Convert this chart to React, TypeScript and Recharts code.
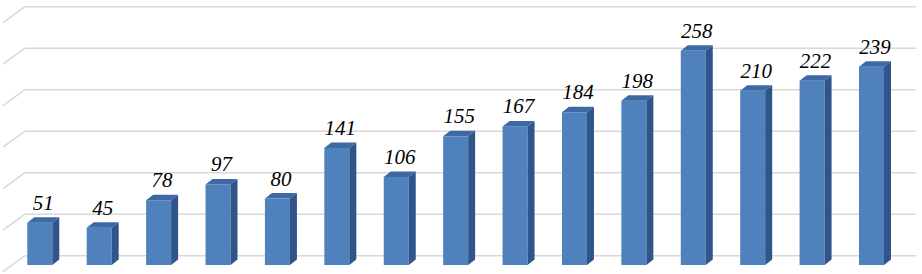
import { BarChart, Bar, XAxis, YAxis, CartesianGrid, LabelList } from 'recharts';

const categories = ['1', '2', '3', '4', '5', '6', '7', '8', '9', '10', '11', '12', '13', '14', '15'];
const values = [51, 45, 78, 97, 80, 141, 106, 155, 167, 184, 198, 258, 210, 222, 239];
const yTicks = [0, 50, 100, 150, 200, 250, 300];

const data = categories.map((name, i) => ({ name, value: values[i] }));

const DX = 7;
const DY = 5.5;

// 3d column: front face + top + right side
const Column3D = (props: any) => {
  const { x, y, width, height } = props;
  if (height <= 0) return null;
  const top = `${x},${y} ${x + DX},${y - DY} ${x + width + DX},${y - DY} ${x + width},${y}`;
  const side = `${x + width},${y} ${x + width + DX},${y - DY} ${x + width + DX},${y + height - DY} ${x + width},${y + height}`;
  return (
    <g>
      <rect x={x} y={y} width={width} height={height} fill="#4f81bd" />
      <polygon points={top} fill="#3d6aa4" />
      <polygon points={side} fill="#30558a" />
    </g>
  );
};

// back-wall gridline with the little diagonal on the left side wall
const WallLine = (props: any) => {
  const { x1, x2, y1, index } = props;
  const sx = 14.7;
  const sy = -9.3;
  const yy = y1 + sy;
  return (
    <g key={`wall-${index}`}>
      <line x1={x1 + sx} y1={yy} x2={x2 + sx} y2={yy} stroke="#d9d9d9" strokeWidth={1.5} />
      <line x1={x1 + sx - 22} y1={yy + 16} x2={x1 + sx} y2={yy} stroke="#d9d9d9" strokeWidth={1.5} />
    </g>
  );
};

const ValueLabel = (props: any) => {
  const { x, y, width, value } = props;
  return (
    <text
      x={x + width / 2 + DX / 2}
      y={y - 13}
      textAnchor="middle"
      style={{ fontFamily: '"Liberation Serif", "Times New Roman", Times, serif', fontStyle: 'italic', fontSize: 21 }}
      fill="#000"
    >
      {value}
    </text>
  );
};

export default function App() {
  return (
    <div style={{ position: 'absolute', left: 0, top: 0, background: '#fff' }}>
      <BarChart
        width={922}
        height={274}
        data={data}
        margin={{ top: 16, right: 20.6, left: 10.3, bottom: 9 }}
        barSize={25}
      >
        <CartesianGrid vertical={false} horizontal={WallLine} />
        <XAxis dataKey="name" hide />
        <YAxis hide domain={[0, 300]} ticks={yTicks} />
        <Bar dataKey="value" shape={Column3D} isAnimationActive={false}>
          <LabelList dataKey="value" content={ValueLabel} />
        </Bar>
      </BarChart>
    </div>
  );
}
